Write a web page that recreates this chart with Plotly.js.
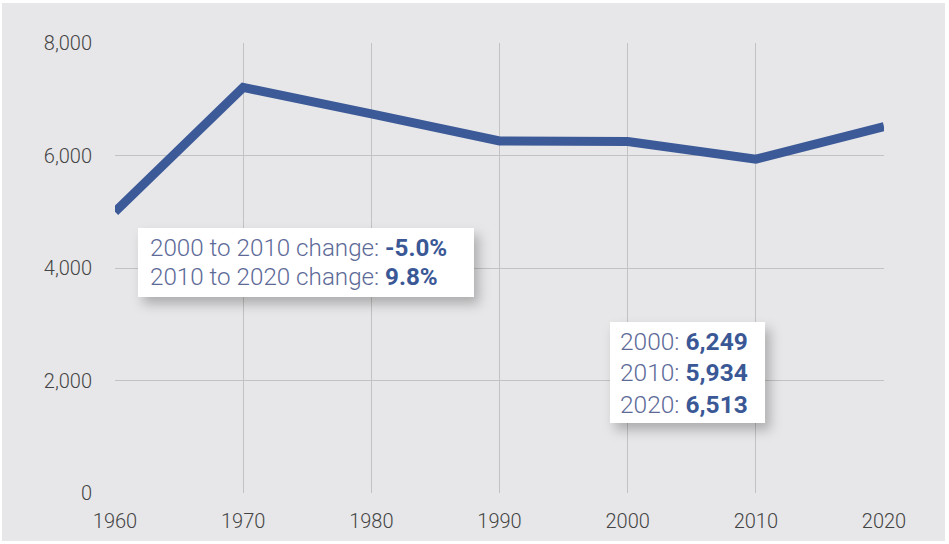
<!DOCTYPE html>
<html>
<head>
<meta charset="utf-8">
<script src="https://cdn.plot.ly/plotly-3.0.1.min.js"></script>
<style>
  html, body { margin: 0; padding: 0; background: #ffffff; width: 949px; height: 544px; overflow: hidden; }
  #chart { position: absolute; left: 2px; top: 3px; width: 943px; height: 538px; }
  .shapelayer path { filter: drop-shadow(5px 7px 6px rgba(0,0,0,0.25)); }
</style>
</head>
<body>
<div id="chart"></div>
<script>
const years = [1960, 1970, 1980, 1990, 2000, 2010, 2020];
const population = [5000, 7210, 6740, 6260, 6249, 5934, 6513];
const xTicks = [1960, 1970, 1980, 1990, 2000, 2010, 2020];
const yTicks = [0, 2000, 4000, 6000, 8000];
const yTickLabels = ['0', '2,000', '4,000', '6,000', '8,000'];
const changeLabels = ['2000 to 2010 change: ', '2010 to 2020 change: '];
const changeValues = ['-5.0%', '9.8%'];
const valueLabels = ['2000: ', '2010: ', '2020: '];
const valueNumbers = ['6,249', '5,934', '6,513'];

const lightCol = '#5d6a98';
const boldCol = '#3b5896';
function fmt(label, val) {
  return '<span style="color:' + lightCol + '">' + label + '</span><b><span style="color:' + boldCol + '">' + val + '</span></b>';
}

const trace = {
  x: years, y: population, type: 'scatter', mode: 'lines',
  line: { color: '#3d5a98', width: 9 }, hoverinfo: 'skip'
};

const box1Y = [0.5444, 0.48];
const box2Y = [0.3356, 0.2667, 0.1956];
const annotations = [];
changeLabels.forEach((l, i) => annotations.push({
  xref: 'paper', yref: 'paper', x: 0.0429, y: box1Y[i],
  xanchor: 'left', yanchor: 'middle', align: 'left', showarrow: false,
  text: fmt(l, changeValues[i]),
  font: { family: 'Roboto', size: 24.2, weight: 300, color: lightCol }
}));
valueLabels.forEach((l, i) => annotations.push({
  xref: 'paper', yref: 'paper', x: 0.6541, y: box2Y[i],
  xanchor: 'left', yanchor: 'middle', align: 'left', showarrow: false,
  text: fmt(l, valueNumbers[i]),
  font: { family: 'Roboto', size: 24.5, weight: 300, color: lightCol }
}));

const layout = {
  width: 943, height: 538,
  margin: { l: 113, r: 61, t: 40, b: 48 },
  paper_bgcolor: '#e7e7e9', plot_bgcolor: '#e7e7e9',
  showlegend: false,
  font: { family: 'Roboto', color: '#444444', size: 20, weight: 300 },
  xaxis: {
    range: [1960, 2020], tickvals: xTicks, ticktext: xTicks.map(String),
    showgrid: true, gridcolor: '#c2c2c2', gridwidth: 1,
    zeroline: false, showline: false, ticks: '', ticklabelstandoff: 14,
    tickfont: { family: 'Roboto', size: 20, color: '#444444', weight: 300 }
  },
  yaxis: {
    range: [0, 8000], tickvals: yTicks, ticktext: yTickLabels,
    showgrid: true, gridcolor: '#c2c2c2', gridwidth: 1,
    zeroline: false, showline: false, ticks: '', ticklabelstandoff: 22,
    tickfont: { family: 'Roboto', size: 20, color: '#444444', weight: 300 }
  },
  shapes: [
    { type: 'rect', xref: 'paper', yref: 'paper', x0: 0.0299, x1: 0.4668, y0: 0.4356, y1: 0.5889,
      fillcolor: '#ffffff', line: { width: 0 }, layer: 'above' },
    { type: 'rect', xref: 'paper', yref: 'paper', x0: 0.6437, x1: 0.8453, y0: 0.1556, y1: 0.38,
      fillcolor: '#ffffff', line: { width: 0 }, layer: 'above' }
  ],
  annotations: annotations
};

Plotly.newPlot('chart', [trace], layout, { displayModeBar: false, staticPlot: true });
</script>
</body>
</html>
